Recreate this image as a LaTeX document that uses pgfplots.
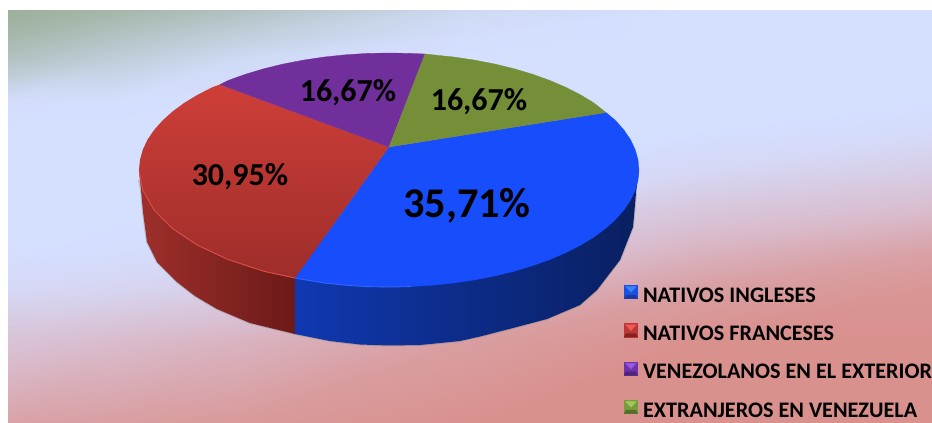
\documentclass[border=0pt]{standalone}
\usepackage{fontspec}
\setmainfont{Carlito}
\usepackage{pgfplots}
\usepackage{pgfplotstable}
\pgfplotsset{compat=1.18}

% background wash: meta <0 grey-green, 0 pale blue, >0 pink
\pgfplotstableread{
x y m
8 10 -1
120 10 -.85
240 10 -.62
470 10 -.12
700 10 0
932 10 0
8 35 -.85
120 35 -.6
240 35 -.35
470 35 -.03
700 35 0
932 35 0
8 60 -.6
120 60 -.35
240 60 -.1
470 60 0
700 60 0
932 60 0
8 100 -.05
120 100 -.02
240 100 0
470 100 0
700 100 0
932 100 0
8 130 0
120 130 0
240 130 0
470 130 0
700 130 0
932 130 .05
8 170 0
120 170 0
240 170 0
470 170 0
700 170 .1
932 170 .25
8 210 0
120 210 0
240 210 0
470 210 .1
700 210 .35
932 210 .5
8 250 0
120 250 .02
240 250 .05
470 250 .3
700 250 .6
932 250 .8
8 290 .1
120 290 .15
240 290 .25
470 290 .55
700 290 .85
932 290 .95
8 340 .4
120 340 .5
240 340 .6
470 340 .85
700 340 1
932 340 1
8 423 .8
120 423 .85
240 423 .9
470 423 1
700 423 1
932 423 1
}\bgwash

% top faces, pixel coordinates of the picture (y downwards), last row = apex
\pgfplotstableread{
x y
606 112.5
615.6 120.6
623.9 130
630.5 139.7
635.2 149.7
638 159.8
639 170
638 180.2
635.2 190.3
630.5 200.3
623.9 210
615.6 219.4
605.5 228.5
593.8 237.1
580.5 245.2
565.8 252.7
549.7 259.6
532.4 265.8
514 271.3
494.7 276
474.5 279.9
453.7 283
432.4 285.2
410.8 286.6
389 287
367.2 286.6
345.6 285.2
324.3 283
303.5 279.9
295 278
389 147
}\topblue
\pgfplotstableread{
x y
295 278
283.3 276
264 271.3
245.6 265.8
228.3 259.6
212.2 252.7
197.5 245.2
184.2 237.1
172.5 228.5
162.4 219.4
154.1 210
147.5 200.3
142.8 190.3
140 180.2
139 170
140 159.8
142.8 149.7
147.5 139.7
154.1 130
162.4 120.6
172.5 111.5
184.2 102.9
197.5 94.8
212.2 87.3
220 84.5
389 147
}\topred
\pgfplotstableread{
x y
220 84.5
228.3 80.4
245.6 74.2
264 68.7
283.3 64
303.5 60.1
324.3 57
345.6 54.8
367.2 53.4
389 53
410.8 53.4
425 54
389 147
}\toppurple
\pgfplotstableread{
x y
425 54
432.4 54.8
453.7 57
474.5 60.1
494.7 64
514 68.7
532.4 74.2
549.7 80.4
565.8 87.3
580.5 94.8
593.8 102.9
606 112.5
389 147
}\topgreen

% side walls
\pgfplotstableread{
x y
139 170
141 190
143 212
147 242
157 262
177 282
195 296
217 309
250 323
295 334
295 250
200 170
}\wallred
\pgfplotstableread{
x y
295 334
330 341
360 344.5
389 345.5
420 345
460 341
480 336.5
513 328
547 319
580 305
597 290
620 260
633 227
636 193
639 170
500 170
295 250
}\wallblue
\pgfplotstableread{
x y
139 180
141 190
143 212
147 242
157 262
177 282
195 296
217 309
250 323
295 334
330 341
360 344.5
389 345.5
420 345
460 341
480 336.5
513 328
547 319
580 305
597 290
620 260
633 227
636 193
}\wallshadow

% rim highlights
\pgfplotstableread{
x y
295 278
264 271.3
228.3 259.6
197.5 245.2
172.5 228.5
154.1 210
142.8 190.3
139 170
}\rimred
\pgfplotstableread{
x y
295 278
324.3 283
345.6 285.2
367.2 286.6
389 287
410.8 286.6
}\rimblue

\definecolor{cblue}{RGB}{23,77,251}
\definecolor{cpurple}{RGB}{113,47,156}
\definecolor{cgreen}{RGB}{117,143,56}
\definecolor{wallredl}{RGB}{158,47,43}
\definecolor{wallredr}{RGB}{108,26,24}
\definecolor{wallbluel}{RGB}{16,56,176}
\definecolor{wallbluem}{RGB}{10,33,102}
\definecolor{wallbluer}{RGB}{9,31,96}
\definecolor{topredt}{RGB}{206,62,56}
\definecolor{topredb}{RGB}{158,45,42}
\definecolor{rimr}{RGB}{222,78,72}
\definecolor{rimb}{RGB}{50,100,255}
\definecolor{kbm}{RGB}{28,80,225}
\definecolor{kbl}{RGB}{60,130,255}
\definecolor{kbd}{RGB}{26,58,160}
\definecolor{krm}{RGB}{190,55,50}
\definecolor{krl}{RGB}{240,90,85}
\definecolor{krd}{RGB}{130,35,32}
\definecolor{kpm}{RGB}{110,50,170}
\definecolor{kpl}{RGB}{150,90,220}
\definecolor{kpd}{RGB}{80,35,125}
\definecolor{kgm}{RGB}{120,155,60}
\definecolor{kgl}{RGB}{160,200,90}
\definecolor{kgd}{RGB}{85,110,45}

% bevelled legend key: mid, light, dark
\newcommand\bevelkey[3]{%
  \fill[#1] (0pt,-3pt) rectangle (13.4pt,10.4pt);
  \fill[#2] (1.5pt,9pt) -- (11.9pt,9pt) -- (6.7pt,3.4pt) -- cycle;
  \fill[#3] (0pt,-3pt) -- (13.4pt,-3pt) -- (11.4pt,0.4pt) -- (2pt,0.4pt) -- cycle;
}

\begin{document}
\begin{tikzpicture}
\begin{axis}[
    at={(0,0)}, anchor=south west,
    scale only axis, width=932pt, height=423pt,
    xmin=0, xmax=932, ymin=0, ymax=423,
    y dir=reverse,
    hide axis,
    clip=false,
    colormap={wash}{rgb255(0cm)=(156,176,155); rgb255(2cm)=(213,223,255); rgb255(3cm)=(217,188,205); rgb255(4cm)=(217,145,142)},
    point meta min=-1, point meta max=1,
    legend cell align=left,
    legend style={draw=none, fill=none, at={(axis cs:624,285)}, anchor=north west,
      inner sep=0pt, outer sep=0pt, row sep=18.5pt,
      font=\bfseries\fontsize{22.2}{24}\selectfont,
      nodes={inner sep=1.2pt},
      /tikz/column 1/.style={column sep=4pt}},
]
  \addplot[surf, shader=interp, mesh/cols=6, point meta=explicit, forget plot] table[x=x, y=y, meta=m] {\bgwash};

  \addplot[draw=gray, line width=2pt, opacity=.35, forget plot, line join=round] table {\wallshadow};
  \addplot[draw=none, forget plot, left color=wallredl, right color=wallredr] table {\wallred} -- cycle;
  \addplot[draw=none, forget plot, left color=wallbluel, middle color=wallbluem, right color=wallbluer] table {\wallblue} -- cycle;

  \addplot[fill=cblue, draw=cblue, line width=.3pt, forget plot] table {\topblue} -- cycle;
  \addplot[draw=none, forget plot, top color=topredt, bottom color=topredb] table {\topred} -- cycle;
  \addplot[fill=cpurple, draw=cpurple, line width=.3pt, forget plot] table {\toppurple} -- cycle;
  \addplot[fill=cgreen, draw=cgreen, line width=.3pt, forget plot] table {\topgreen} -- cycle;

  \addplot[draw=rimr, line width=.9pt, forget plot, line join=round] table {\rimred};
  \addplot[draw=rimb, line width=.9pt, forget plot, line join=round] table {\rimblue};

  \node[font=\bfseries\fontsize{42.3}{46}\selectfont] at (axis cs:467,206) {35,71\%};
  \node[font=\bfseries\fontsize{32}{36}\selectfont] at (axis cs:240,177) {30,95\%};
  \node[font=\bfseries\fontsize{32}{36}\selectfont] at (axis cs:348,93) {16,67\%};
  \node[font=\bfseries\fontsize{32}{36}\selectfont] at (axis cs:479,102) {16,67\%};

  \addlegendimage{legend image code/.code={\bevelkey{kbm}{kbl}{kbd}}}
  \addlegendentry{NATIVOS INGLESES}
  \addlegendimage{legend image code/.code={\bevelkey{krm}{krl}{krd}}}
  \addlegendentry{NATIVOS FRANCESES}
  \addlegendimage{legend image code/.code={\bevelkey{kpm}{kpl}{kpd}}}
  \addlegendentry{VENEZOLANOS EN EL EXTERIOR}
  \addlegendimage{legend image code/.code={\bevelkey{kgm}{kgl}{kgd}}}
  \addlegendentry{EXTRANJEROS EN VENEZUELA}
\end{axis}
\pgfresetboundingbox
\path[use as bounding box] (0,0) rectangle (932pt,423pt);
\end{tikzpicture}
\end{document}
